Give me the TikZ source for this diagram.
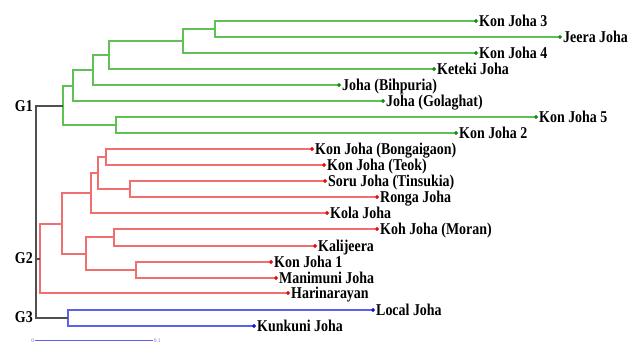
\documentclass[tikz,border=0pt]{standalone}
\usepackage{fontspec}
\setmainfont{Liberation Serif}
\definecolor{gline}{RGB}{95,192,85}
\definecolor{gdotc}{RGB}{20,140,20}
\definecolor{rline}{RGB}{240,110,110}
\definecolor{rdotc}{RGB}{235,10,10}
\definecolor{bline}{RGB}{95,95,238}
\definecolor{bdotc}{RGB}{20,20,215}
\definecolor{kline}{RGB}{80,80,80}
\definecolor{scalec}{RGB}{120,120,200}
\newcommand\lbltxt[1]{\scalebox{0.845}[1]{#1}}
\begin{document}
\begin{tikzpicture}[x=1pt,y=-1pt,
  lab/.style={anchor=base west, inner sep=0pt, font=\fontsize{16.5}{18}\selectfont\bfseries},
  glab/.style={anchor=base east, inner sep=0pt, font=\fontsize{16.5}{18}\selectfont\bfseries},
  dotbase/.style={circle, inner sep=0pt, minimum size=3.6pt},
  gdot/.style={dotbase, fill=gdotc},
  rdot/.style={dotbase, fill=rdotc},
  bdot/.style={dotbase, fill=bdotc},
  gl/.style={draw=gline, line width=1.2pt},
  rl/.style={draw=rline, line width=1.2pt},
  bl/.style={draw=bline, line width=1.2pt},
  kl/.style={draw=kline, line width=1.2pt}]
\useasboundingbox (0,0) rectangle (628,344);
% ---------- leaves ----------
\node[gdot] (kj3) at (476,21) {};
\node[gdot] (jeera) at (560,37) {};
\node[gdot] (kj4) at (476,53) {};
\node[gdot] (ketek) at (434,69) {};
\node[gdot] (bihp) at (339,85) {};
\node[gdot] (gola) at (383,101) {};
\node[gdot] (kj5) at (536,117) {};
\node[gdot] (kj2) at (456,133) {};
\node[rdot] (bong) at (312,149) {};
\node[rdot] (teok) at (324,165) {};
\node[rdot] (soru) at (325,181) {};
\node[rdot] (ronga) at (377,197) {};
\node[rdot] (kola) at (327,213) {};
\node[rdot] (koh) at (377,229) {};
\node[rdot] (kali) at (315,246) {};
\node[rdot] (kj1) at (271,262) {};
\node[rdot] (mani) at (276,278) {};
\node[rdot] (hari) at (288,293) {};
\node[bdot] (local) at (373,310) {};
\node[bdot] (kunk) at (254,326) {};
% ---------- labels ----------
\node[lab] (t1) at ([shift={(3,5.5)}]kj3.center) {\lbltxt{Kon Joha 3}};
\node[lab] (t2) at ([shift={(3,5.5)}]jeera.center) {\lbltxt{Jeera Joha}};
\node[lab] (t3) at ([shift={(3,5.5)}]kj4.center) {\lbltxt{Kon Joha 4}};
\node[lab] (t4) at ([shift={(3,5.5)}]ketek.center) {\lbltxt{Keteki Joha}};
\node[lab] (t5) at ([shift={(3,5.5)}]bihp.center) {\lbltxt{Joha (Bihpuria)}};
\node[lab] (t6) at ([shift={(3,5.5)}]gola.center) {\lbltxt{Joha (Golaghat)}};
\node[lab] (t7) at ([shift={(3,5.5)}]kj5.center) {\lbltxt{Kon Joha 5}};
\node[lab] (t8) at ([shift={(3,5.5)}]kj2.center) {\lbltxt{Kon Joha 2}};
\node[lab] (t9) at ([shift={(3,5.5)}]bong.center) {\lbltxt{Kon Joha (Bongaigaon)}};
\node[lab] (t10) at ([shift={(3,5.5)}]teok.center) {\lbltxt{Kon Joha (Teok)}};
\node[lab] (t11) at ([shift={(3,5.5)}]soru.center) {\lbltxt{Soru Joha (Tinsukia)}};
\node[lab] (t12) at ([shift={(3,5.5)}]ronga.center) {\lbltxt{Ronga Joha}};
\node[lab] (t13) at ([shift={(3,5.5)}]kola.center) {\lbltxt{Kola Joha}};
\node[lab] (t14) at ([shift={(3,5.5)}]koh.center) {\lbltxt{Koh Joha (Moran)}};
\node[lab] (t15) at ([shift={(3,5.5)}]kali.center) {\lbltxt{Kalijeera}};
\node[lab] (t16) at ([shift={(3,5.5)}]kj1.center) {\lbltxt{Kon Joha 1}};
\node[lab] (t17) at ([shift={(3,5.5)}]mani.center) {\lbltxt{Manimuni Joha}};
\node[lab] (t18) at ([shift={(3,5.5)}]hari.center) {\lbltxt{Harinarayan}};
\node[lab] (t19) at ([shift={(3,5.5)}]local.center) {\lbltxt{Local Joha}};
\node[lab] (t20) at ([shift={(3,5.5)}]kunk.center) {\lbltxt{Kunkuni Joha}};
% ---------- internal nodes ----------
\coordinate (a215) at (215,29);
\coordinate (a183) at (183,41);
\coordinate (a109) at (109,55);
\coordinate (a93) at (93,70);
\coordinate (a73) at (73,86);
\coordinate (a116) at (116,125);
\coordinate (a63) at (63,106);
\coordinate (b106) at (106,157);
\coordinate (b130) at (130,189);
\coordinate (b98) at (98,173);
\coordinate (b91) at (91,193);
\coordinate (b114) at (114,237);
\coordinate (b136) at (136,270);
\coordinate (b86) at (86,254);
\coordinate (b62) at (62,224);
\coordinate (b40) at (40,259);
\coordinate (c68) at (68,318);
\coordinate (root) at (36,212);
% ---------- G1 (green) ----------
\draw[gl] (a215) |- (kj3.center) (a215) |- (jeera.center);
\draw[gl] (a183) |- (a215) (a183) |- (kj4.center);
\draw[gl] (a109) |- (a183) (a109) |- (ketek.center);
\draw[gl] (a93) |- (a109) (a93) |- (bihp.center);
\draw[gl] (a73) |- (a93) (a73) |- (gola.center);
\draw[gl] (a116) |- (kj5.center) (a116) |- (kj2.center);
\draw[gl] (a63) |- (a73) (a63) |- (a116);
% ---------- G2 (red) ----------
\draw[rl] (b106) |- (bong.center) (b106) |- (teok.center);
\draw[rl] (b130) |- (soru.center) (b130) |- (ronga.center);
\draw[rl] (b98) |- (b106) (b98) |- (b130);
\draw[rl] (b91) |- (b98) (b91) |- (kola.center);
\draw[rl] (b114) |- (koh.center) (b114) |- (kali.center);
\draw[rl] (b136) |- (kj1.center) (b136) |- (mani.center);
\draw[rl] (b86) |- (b114) (b86) |- (b136);
\draw[rl] (b62) |- (b91) (b62) |- (b86);
\draw[rl] (b40) |- (b62) (b40) |- (hari.center);
% ---------- G3 (blue) ----------
\draw[bl] (c68) |- (local.center) (c68) |- (kunk.center);
% ---------- root (black) ----------
\draw[kl] (root) |- (a63) (root) |- (b40) (root) |- (c68);
% dots on top
\node[gdot] at (kj3) {}; \node[gdot] at (jeera) {}; \node[gdot] at (kj4) {};
\node[gdot] at (ketek) {}; \node[gdot] at (bihp) {}; \node[gdot] at (gola) {};
\node[gdot] at (kj5) {}; \node[gdot] at (kj2) {};
\node[rdot] at (bong) {}; \node[rdot] at (teok) {}; \node[rdot] at (soru) {};
\node[rdot] at (ronga) {}; \node[rdot] at (kola) {}; \node[rdot] at (koh) {};
\node[rdot] at (kali) {}; \node[rdot] at (kj1) {}; \node[rdot] at (mani) {};
\node[rdot] at (hari) {};
\node[bdot] at (local) {}; \node[bdot] at (kunk) {};
% ---------- group labels ----------
\node[glab] (g1) at (33,111.5) {\lbltxt{G1}};
\node[glab] (g2) at (33,264) {\lbltxt{G2}};
\node[glab] (g3) at (33,322) {\lbltxt{G3}};
% ---------- scale bar ----------
\coordinate (s0) at (35,340.5);
\coordinate (s1) at (153,340.5);
\draw[draw=bline, line width=0.8pt] (s0) -- (s1);
\node[anchor=east, inner sep=0.6pt, text=scalec, font=\fontsize{5.5}{6}\selectfont] (s0t) at (s0) {0};
\node[anchor=west, inner sep=0.6pt, text=scalec, font=\fontsize{5.5}{6}\selectfont] (s1t) at (s1) {0.1};
\end{tikzpicture}
\end{document}
